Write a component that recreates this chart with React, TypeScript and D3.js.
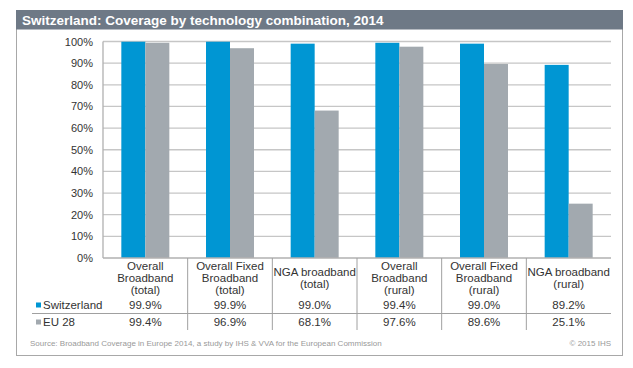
import React, { useRef, useEffect } from 'react';
import * as d3 from 'd3';

// chart data
const categories = [
  'Overall Broadband (total)',
  'Overall Fixed Broadband (total)',
  'NGA broadband (total)',
  'Overall Broadband (rural)',
  'Overall Fixed Broadband (rural)',
  'NGA broadband (rural)',
];
const categoryLines = [
  ['Overall', 'Broadband', '(total)'],
  ['Overall Fixed', 'Broadband', '(total)'],
  ['NGA broadband', '(total)'],
  ['Overall', 'Broadband', '(rural)'],
  ['Overall Fixed', 'Broadband', '(rural)'],
  ['NGA broadband', '(rural)'],
];
const seriesNames = ['Switzerland', 'EU 28'];
const switzerland = [99.9, 99.9, 99.0, 99.4, 99.0, 89.2];
const eu28 = [99.4, 96.9, 68.1, 97.6, 89.6, 25.1];
const yTicks = [0, 10, 20, 30, 40, 50, 60, 70, 80, 90, 100];

const title = 'Switzerland: Coverage by technology combination, 2014';
const source = 'Source: Broadband Coverage in Europe 2014, a study by IHS & VVA for the European Commission';
const copyright = '\u00a9 2015 IHS';

const W = 633;
const H = 368;
const colors = ['#0096d3', '#a2a9af'];
const font = '"Liberation Sans", Arial, sans-serif';

const Chart = () => {
  const ref = useRef<SVGSVGElement>(null);

  useEffect(() => {
    const svg = d3.select(ref.current);
    svg.selectAll('*').remove();

    const left = 103, right = 611, top = 41.5, bottom = 258;
    const values = [switzerland, eu28];

    // frame + title bar
    svg.append('rect').attr('x', 16.5).attr('y', 10.5).attr('width', 606).attr('height', 345)
      .attr('fill', '#fff').attr('stroke', '#a8a8a8');
    svg.append('rect').attr('x', 16).attr('y', 10).attr('width', 607).attr('height', 19.5)
      .attr('fill', '#6e7986');
    svg.append('text').attr('x', 22).attr('y', 25).text(title)
      .attr('fill', '#fff').attr('font-family', font).attr('font-weight', 'bold').attr('font-size', 13.5);

    const x = d3.scaleBand().domain(categories).range([left, right]);
    const y = d3.scaleLinear().domain([0, 100]).range([bottom, top]);
    const x1 = d3.scaleBand().domain(seriesNames).range([-24, 24]);

    // gridlines
    svg.append('g').selectAll('line').data(yTicks.filter(d => d > 0)).enter().append('line')
      .attr('x1', left).attr('x2', right)
      .attr('y1', d => y(d)).attr('y2', d => y(d))
      .attr('stroke', '#c6c6c6').attr('stroke-width', 1.3);

    // y axis labels
    svg.append('g').selectAll('text').data(yTicks).enter().append('text')
      .attr('x', 93).attr('y', d => y(d) + 4)
      .attr('text-anchor', 'end').attr('font-family', font).attr('font-size', 11).attr('fill', '#333')
      .text(d => d + '%');

    // bars
    seriesNames.forEach((s, si) => {
      svg.append('g').selectAll('rect').data(values[si]).enter().append('rect')
        .attr('x', (d, i) => (x(categories[i]) as number) + x.bandwidth() / 2 + (x1(s) as number))
        .attr('width', x1.bandwidth())
        .attr('y', d => y(d))
        .attr('height', d => bottom - y(d))
        .attr('fill', colors[si]);
    });

    // axis lines
    svg.append('line').attr('x1', left).attr('x2', left).attr('y1', top).attr('y2', bottom)
      .attr('stroke', '#b0b0b0').attr('stroke-width', 1.3);
    svg.append('line').attr('x1', left).attr('x2', right).attr('y1', bottom).attr('y2', bottom)
      .attr('stroke', '#b0b0b0').attr('stroke-width', 1.3);

    // table
    const tableBottom = 330;
    categories.forEach((c, i) => {
      if (i > 0) {
        svg.append('line').attr('x1', x(c) as number).attr('x2', x(c) as number)
          .attr('y1', bottom).attr('y2', tableBottom).attr('stroke', '#a0a0a0');
      }
    });
    svg.append('line').attr('x1', 32).attr('x2', right).attr('y1', 313.5).attr('y2', 313.5)
      .attr('stroke', '#a0a0a0');

    categoryLines.forEach((lines, i) => {
      const cx = (x(categories[i]) as number) + x.bandwidth() / 2;
      const startY = 282 - ((lines.length - 1) * 12) / 2;
      lines.forEach((ln, li) => {
        svg.append('text').attr('x', cx).attr('y', startY + li * 12)
          .attr('text-anchor', 'middle').attr('font-family', font).attr('font-size', 11.5).attr('fill', '#333')
          .text(ln);
      });
    });

    const rowY = [309, 326];
    seriesNames.forEach((s, si) => {
      svg.append('rect').attr('x', 36).attr('y', rowY[si] - 6.5).attr('width', 5).attr('height', 5)
        .attr('fill', colors[si]);
      svg.append('text').attr('x', 43).attr('y', rowY[si]).text(s)
        .attr('font-family', font).attr('font-size', 11.5).attr('fill', '#333');
      svg.append('g').selectAll('text').data(values[si]).enter().append('text')
        .attr('x', (d, i) => (x(categories[i]) as number) + x.bandwidth() / 2)
        .attr('y', rowY[si])
        .attr('text-anchor', 'middle').attr('font-family', font).attr('font-size', 11.5).attr('fill', '#333')
        .text(d => d.toFixed(1) + '%');
    });

    // footer
    svg.append('text').attr('x', 30).attr('y', 346).text(source)
      .attr('font-family', font).attr('font-size', 8).attr('fill', '#999');
    svg.append('text').attr('x', 611).attr('y', 346).text(copyright)
      .attr('text-anchor', 'end').attr('font-family', font).attr('font-size', 8).attr('fill', '#999');
  }, []);

  return (
    <svg ref={ref} width={W} height={H}
      style={{ position: 'absolute', left: 0, top: 0, background: '#fff' }} />
  );
};

export default function App() {
  return <Chart />;
}
